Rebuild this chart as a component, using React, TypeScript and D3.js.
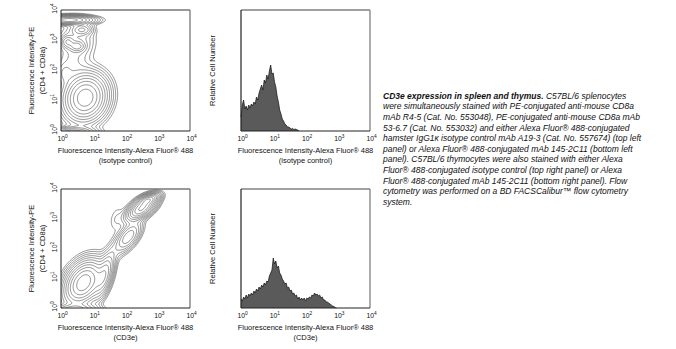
import React, { useMemo } from "react";
import * as d3 from "d3";

const FONT = "'Liberation Sans', Arial, Helvetica, sans-serif";

// ---- axis ticks (log10 exponents) ----
const tickExponents = [0, 1, 2, 3, 4];

// ---- contour panel, top-left: splenocytes, isotype control (log10 units) ----
const isoCompX = [0.25, 0.66, 0.5, 0.2, 0.5, 0.75, 0.1, 0.35, 0.3];
const isoCompY = [3.67, 3.35, 2.8, 2.95, 3.0, 1.1, 1.9, -0.05, 2.2];
const isoCompSx = [0.42, 0.18, 0.14, 0.12, 0.33, 0.36, 0.14, 0.4, 0.3];
const isoCompSy = [0.08, 0.1, 0.1, 0.12, 0.4, 0.42, 0.2, 0.1, 0.35];
const isoCompR = [0, 0, 0, 0, 0, 0.1, 0, 0, 0];
const isoCompW = [0.7, 0.2, 0.2, 0.18, 0.1, 1.0, 0.08, 0.4, 0.06];

// ---- contour panel, bottom-left: splenocytes, CD3e ----
const cd3CompX = [0.7, 1.35, 2.1, 2.5, 2.72, 1.8, 0.4, 1.7];
const cd3CompY = [0.85, 1.1, 2.4, 3.35, 3.65, 2.1, -0.05, 3.0];
const cd3CompSx = [0.32, 0.17, 0.22, 0.25, 0.18, 0.3, 0.42, 0.15];
const cd3CompSy = [0.4, 0.42, 0.28, 0.22, 0.11, 0.4, 0.1, 0.3];
const cd3CompR = [0.35, 0.6, 0.6, 0.6, 0.5, 0.7, 0, 0.3];
const cd3CompW = [1.0, 0.35, 0.28, 0.85, 0.5, 0.04, 0.35, 0.03];

// relative contour levels
const contourLevels = [0.02, 0.032, 0.05, 0.075, 0.11, 0.16, 0.23, 0.32, 0.44, 0.6, 0.8];

// ---- histograms (bin step 0.04 decade starting at 10^0) ----
const histBinStep = 0.04;
const thyIsoCounts = [
  14, 26, 31, 22, 25, 21, 26, 23, 27, 25, 29, 27, 34, 31, 38, 42, 46, 41, 51, 48,
  56, 52, 60, 66, 57, 58, 49, 44, 35, 29, 21, 17, 12, 10, 7, 6, 4, 4, 3, 2,
  2.5, 1.5, 2, 1.5, 1, 0,
];
const thyCd3Counts = [
  9, 7, 11, 9, 13, 10, 14, 12, 15, 13, 17, 15, 19, 17, 21, 19, 23, 21, 25, 23,
  27, 26, 32, 35, 38, 50, 44, 47, 40, 42, 35, 33, 29, 27, 24, 25, 20, 21, 17, 18,
  14, 15, 12, 13, 9, 11, 8, 10, 8, 10, 7, 10, 9, 11, 10, 13, 12, 15, 13, 14,
  12, 13, 10, 11, 8, 8, 6, 6, 5, 4, 3, 2, 1.5, 0.5, 0,
];

// ---- text ----
const xTitle = "Fluorescence Intensity-Alexa Fluor® 488";
const xSubTop = "(isotype control)";
const xSubBottom = "(CD3e)";
const yTitle1 = "Fluorescence Intensity-PE";
const yTitle2 = "(CD4 + CD8a)";
const histYTitle = "Relative Cell Number";
const captionBold = "CD3e expression in spleen and thymus.";
const captionLines = [
  " C57BL/6 splenocytes",
  "were simultaneously stained with PE-conjugated anti-mouse CD8a",
  "mAb R4-5 (Cat. No. 553048), PE-conjugated anti-mouse CD8a mAb",
  "53-6.7 (Cat. No. 553032) and either Alexa Fluor® 488-conjugated",
  "hamster IgG1κ isotype control mAb A19-3 (Cat. No. 557674) (top left",
  "panel) or Alexa Fluor® 488-conjugated mAb 145-2C11 (bottom left",
  "panel).  C57BL/6 thymocytes were also stained with either Alexa",
  "Fluor® 488-conjugated isotype control (top right panel) or Alexa",
  "Fluor® 488-conjugated mAb 145-2C11 (bottom right panel).  Flow",
  "cytometry was performed on a BD FACSCalibur™ flow cytometry",
  "system.",
];

type Box = { x0: number; x1: number; y0: number; y1: number };

const TL: Box = { x0: 61, x1: 190, y0: 10, y1: 131 };
const BL: Box = { x0: 61, x1: 190, y0: 189, y1: 308 };
const TR: Box = { x0: 241, x1: 370, y0: 10, y1: 131 };
const BR: Box = { x0: 241, x1: 370, y0: 189, y1: 308 };

function Pow10({ x, y, e, rotate }: { x: number; y: number; e: number; rotate?: boolean }) {
  return (
    <text
      x={x}
      y={y}
      fontSize={6.8}
      fontFamily={FONT}
      fill="#111"
      textAnchor="middle"
      transform={rotate ? `rotate(-90 ${x} ${y})` : undefined}
    >
      10<tspan fontSize={4.8} dy={-3}>{e}</tspan>
    </text>
  );
}

function XTicks({ box, id }: { box: Box; id: string }) {
  const xs = d3.scaleLog().domain([1, 1e4]).range([box.x0, box.x1]);
  return (
    <g>
      {tickExponents.map((e) => (
        <Pow10 key={id + "x" + e} x={xs(Math.pow(10, e)) + 1.5} y={box.y1 + 9.5} e={e} />
      ))}
    </g>
  );
}

function YTicks({ box, id }: { box: Box; id: string }) {
  const ys = d3.scaleLog().domain([1, 1e4]).range([box.y1, box.y0]);
  return (
    <g>
      {tickExponents.map((e) => (
        <Pow10 key={id + "y" + e} x={56.5} y={ys(Math.pow(10, e)) - 1.5} e={e} rotate />
      ))}
    </g>
  );
}

function ContourPanel({
  box, id, cx, cy, sx, sy, r, w, sub,
}: {
  box: Box; id: string; cx: number[]; cy: number[]; sx: number[]; sy: number[]; r: number[]; w: number[]; sub: string;
}) {
  const paths = useMemo(() => {
    const lo = -0.6, hi = 4.6, n = 208;
    const step = (hi - lo) / (n - 1);
    const vals = new Float64Array(n * n);
    let max = 0;
    for (let j = 0; j < n; j++) {
      const ly = lo + j * step;
      for (let i = 0; i < n; i++) {
        const lx = lo + i * step;
        let v = 0;
        for (let k = 0; k < cx.length; k++) {
          const dx = (lx - cx[k]) / sx[k];
          const dy = (ly - cy[k]) / sy[k];
          const rr = r[k];
          const q = (dx * dx - 2 * rr * dx * dy + dy * dy) / (1 - rr * rr);
          v += w[k] * Math.exp(-0.5 * q);
        }
        vals[j * n + i] = v;
        if (v > max) max = v;
      }
    }
    const thr = contourLevels.map((c) => c * max);
    const polys = d3.contours().size([n, n]).thresholds(thr)(Array.from(vals));
    const xs = d3.scaleLinear().domain([0, 4]).range([box.x0, box.x1]);
    const ys = d3.scaleLinear().domain([0, 4]).range([box.y1, box.y0]);
    const proj = d3.geoTransform({
      point(px: number, py: number) {
        // @ts-ignore
        this.stream.point(xs(lo + (px - 0.5) * step), ys(lo + (py - 0.5) * step));
      },
    });
    const gp = d3.geoPath(proj);
    return polys.map((p) => gp(p as any) || "");
  }, []);
  const cxm = (box.x0 + box.x1) / 2;
  const cym = (box.y0 + box.y1) / 2;
  return (
    <g>
      <defs>
        <clipPath id={"clip" + id}>
          <rect x={box.x0} y={box.y0} width={box.x1 - box.x0} height={box.y1 - box.y0} />
        </clipPath>
      </defs>
      <g clipPath={`url(#clip${id})`}>
        {paths.map((d, i) => (
          <path key={i} d={d} fill="none" stroke="#4a4a4a" strokeWidth={0.6} />
        ))}
      </g>
      <line x1={box.x0} y1={box.y0} x2={box.x1} y2={box.y0} stroke="#777" strokeWidth={1.3} />
      <line x1={box.x1} y1={box.y0} x2={box.x1} y2={box.y1} stroke="#777" strokeWidth={1.3} />
      <line x1={box.x0} y1={box.y0} x2={box.x0} y2={box.y1} stroke="#222" strokeWidth={1} />
      <line x1={box.x0} y1={box.y1} x2={box.x1} y2={box.y1} stroke="#222" strokeWidth={1} />
      <XTicks box={box} id={id} />
      <YTicks box={box} id={id} />
      <text x={cxm} y={box.y1 + 21.5} fontSize={7.5} fontFamily={FONT} textAnchor="middle" fill="#111">{xTitle}</text>
      <text x={cxm} y={box.y1 + 31.5} fontSize={7.5} fontFamily={FONT} textAnchor="middle" fill="#111">{sub}</text>
      <text x={34} y={cym} fontSize={7.5} fontFamily={FONT} textAnchor="middle" fill="#111" transform={`rotate(-90 34 ${cym})`}>{yTitle1}</text>
      <text x={45} y={cym} fontSize={7.5} fontFamily={FONT} textAnchor="middle" fill="#111" transform={`rotate(-90 45 ${cym})`}>{yTitle2}</text>
    </g>
  );
}

function HistPanel({ box, id, counts, sub }: { box: Box; id: string; counts: number[]; sub: string }) {
  const xs = d3.scaleLog().domain([1, 1e4]).range([box.x0, box.x1]);
  const ys = d3.scaleLinear().domain([0, box.y1 - box.y0]).range([box.y1, box.y0]);
  const pts = counts.map((c, i) => [Math.pow(10, i * histBinStep), c] as [number, number]);
  const area = d3.area<[number, number]>().x((d) => xs(d[0])).y0(box.y1).y1((d) => ys(d[1]));
  const line = d3.line<[number, number]>().x((d) => xs(d[0])).y((d) => ys(d[1]));
  const cxm = (box.x0 + box.x1) / 2;
  const cym = (box.y0 + box.y1) / 2;
  return (
    <g>
      <path d={area(pts) || ""} fill="#5a5a5a" stroke="none" />
      <path d={line(pts) || ""} fill="none" stroke="#111" strokeWidth={0.7} />
      <line x1={box.x0} y1={box.y0} x2={box.x1} y2={box.y0} stroke="#808080" strokeWidth={1.6} />
      <line x1={box.x1} y1={box.y0} x2={box.x1} y2={box.y1} stroke="#808080" strokeWidth={1.3} />
      <line x1={box.x0} y1={box.y0} x2={box.x0} y2={box.y1} stroke="#222" strokeWidth={1.2} />
      <line x1={box.x0} y1={box.y1} x2={box.x1} y2={box.y1} stroke="#222" strokeWidth={1} />
      <XTicks box={box} id={id} />
      <text x={cxm} y={box.y1 + 21.5} fontSize={7.5} fontFamily={FONT} textAnchor="middle" fill="#111">{xTitle}</text>
      <text x={cxm} y={box.y1 + 31.5} fontSize={7.5} fontFamily={FONT} textAnchor="middle" fill="#111">{sub}</text>
      <text x={215} y={cym} fontSize={7.5} fontFamily={FONT} textAnchor="middle" fill="#111" transform={`rotate(-90 215 ${cym})`}>{histYTitle}</text>
    </g>
  );
}

export default function App() {
  return (
    <svg width={676} height={349} style={{ position: "absolute", left: 0, top: 0, background: "#fff" }}>
      <rect x={0} y={0} width={676} height={349} fill="#fff" />
      <ContourPanel box={TL} id="tl" cx={isoCompX} cy={isoCompY} sx={isoCompSx} sy={isoCompSy} r={isoCompR} w={isoCompW} sub={xSubTop} />
      <ContourPanel box={BL} id="bl" cx={cd3CompX} cy={cd3CompY} sx={cd3CompSx} sy={cd3CompSy} r={cd3CompR} w={cd3CompW} sub={xSubBottom} />
      <HistPanel box={TR} id="tr" counts={thyIsoCounts} sub={xSubTop} />
      <HistPanel box={BR} id="br" counts={thyCd3Counts} sub={xSubBottom} />
      <g fontFamily={FONT} fontSize={8.5} fontStyle="italic" fill="#111">
        {captionLines.map((t, i) => (
          <text key={i} x={383} y={98.7 + i * 10.6}>
            {i === 0 ? <tspan fontWeight="bold">{captionBold}</tspan> : null}
            {t}
          </text>
        ))}
      </g>
    </svg>
  );
}
